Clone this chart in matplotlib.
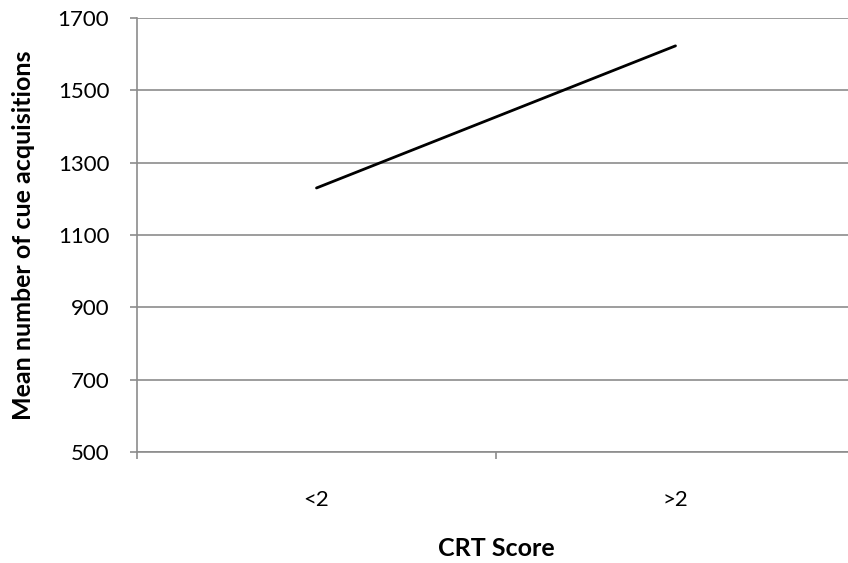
import matplotlib.pyplot as plt

# CRT score groups and mean number of cue acquisitions
groups = ["<2", ">2"]
mean_cues = [1230, 1623]

plt.rcParams["font.family"] = ["Lato", "DejaVu Sans"]

fig = plt.figure(figsize=(8.48, 5.63), dpi=100)
ax = fig.add_axes([137 / 848, 1 - 452 / 563, (855 - 137) / 848, 434 / 563])

xpos = list(range(1, len(groups) + 1))
ax.plot(xpos, mean_cues, color="black", linewidth=2.0, solid_capstyle="round")

ax.set_xlim(0.5, len(groups) + 0.5)
ax.set_ylim(500, 1700)
ax.set_yticks(range(500, 1701, 200))
ax.set_xticks([x + 0.5 for x in range(0, len(groups) + 1)])
ax.set_xticklabels([])
ax.set_xticks(xpos, minor=True)
ax.set_xticklabels(groups, minor=True)

ax.grid(axis="y", color="#8c8c8c", linewidth=1.2)
ax.set_axisbelow(True)
for side in ["top", "right"]:
    ax.spines[side].set_visible(False)
for side in ["left", "bottom"]:
    ax.spines[side].set_color("#8c8c8c")
    ax.spines[side].set_linewidth(1.2)

ax.tick_params(axis="y", which="major", length=5, width=1.2, color="#8c8c8c",
               labelsize=16, pad=15)
ax.tick_params(axis="x", which="major", length=5, width=1.2, color="#8c8c8c")
ax.tick_params(axis="x", which="minor", length=0, labelsize=16, pad=27)

ax.set_xlabel("CRT Score", fontsize=18, fontweight="bold", labelpad=20)
ax.set_ylabel("Mean number of cue acquisitions", fontsize=18, fontweight="bold", labelpad=16)

fig.savefig("out.png", dpi=100)
